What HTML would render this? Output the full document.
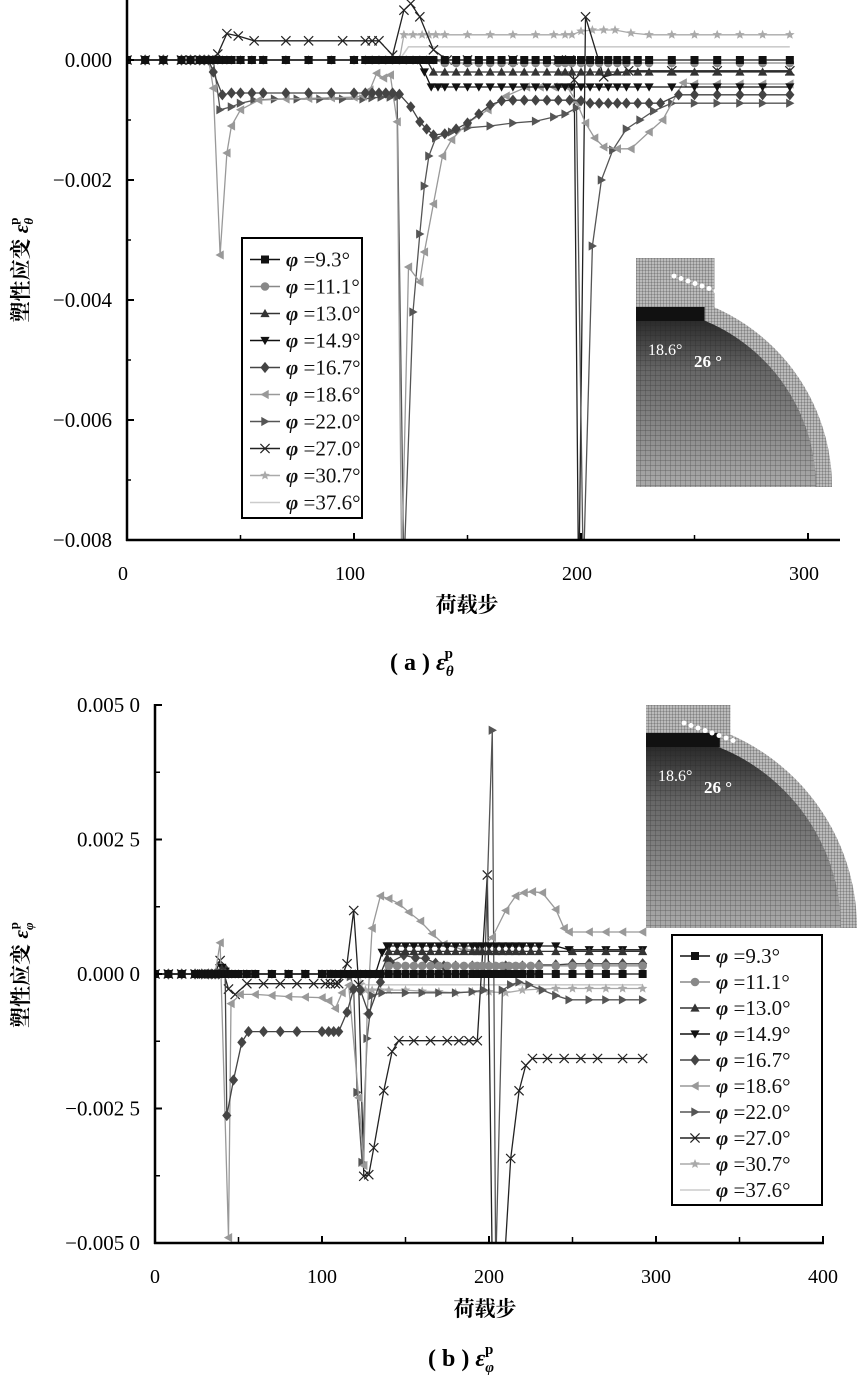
<!DOCTYPE html>
<html><head><meta charset="utf-8">
<style>
html,body{margin:0;padding:0;background:#fff;}
svg{display:block;}
text{font-family:"Liberation Serif","Noto Serif CJK SC",serif;}
.cj{font-family:"Liberation Serif","Noto Serif CJK SC","Noto Sans CJK SC",serif;font-weight:bold;}
</style></head>
<body>
<svg id="s" width="857" height="1375" viewBox="0 0 857 1375" xmlns="http://www.w3.org/2000/svg">
<defs>
<clipPath id="ca"><rect x="127" y="0" width="715" height="541"/></clipPath>
<clipPath id="cb"><rect x="155" y="704" width="670" height="540"/></clipPath>
<pattern id="mesh" width="5" height="5" patternUnits="userSpaceOnUse"><rect width="5" height="5" fill="none"/><path d="M0 0H5M0 0V5" stroke="#222" stroke-width="0.7"/></pattern>
<pattern id="mesh2" width="3" height="3" patternUnits="userSpaceOnUse"><rect width="3" height="3" fill="#bbb"/><path d="M0 0H3M0 0V3" stroke="#444" stroke-width="0.6"/></pattern>
<linearGradient id="gr" x1="0" y1="0" x2="0" y2="1"><stop offset="0" stop-color="#1a1a1a"/><stop offset="0.35" stop-color="#666"/><stop offset="1" stop-color="#aaa"/></linearGradient>
</defs>
<g id="ga"></g>
<g id="gb"></g>
</svg>
<script>
const NS="http://www.w3.org/2000/svg";
function el(p,tag,at,txt){const e=document.createElementNS(NS,tag);for(const k in at)e.setAttribute(k,at[k]);if(txt!==undefined)e.textContent=txt;p.appendChild(e);return e;}
function marker(g,t,x,y,c){const r=4.6;
 if(t=='sq')el(g,'rect',{x:x-4,y:y-4,width:8,height:8,fill:c});
 else if(t=='ci')el(g,'circle',{cx:x,cy:y,r:4.3,fill:c});
 else if(t=='tu')el(g,'polygon',{points:`${x},${y-r} ${x-r},${y+r*0.8} ${x+r},${y+r*0.8}`,fill:c});
 else if(t=='td')el(g,'polygon',{points:`${x},${y+r} ${x-r},${y-r*0.8} ${x+r},${y-r*0.8}`,fill:c});
 else if(t=='di')el(g,'polygon',{points:`${x},${y-r-1} ${x+r},${y} ${x},${y+r+1} ${x-r},${y}`,fill:c});
 else if(t=='tl')el(g,'polygon',{points:`${x-r},${y} ${x+r*0.8},${y-r} ${x+r*0.8},${y+r}`,fill:c});
 else if(t=='tr')el(g,'polygon',{points:`${x+r},${y} ${x-r*0.8},${y-r} ${x-r*0.8},${y+r}`,fill:c});
 else if(t=='x'){el(g,'path',{d:`M${x-r} ${y-r}L${x+r} ${y+r}M${x-r} ${y+r}L${x+r} ${y-r}`,stroke:c,'stroke-width':1.2});}
 else if(t=='st'){let p=[];for(let i=0;i<10;i++){const a=-Math.PI/2+i*Math.PI/5,rr=i%2?2.2:5;p.push((x+rr*Math.cos(a)).toFixed(1)+','+(y+rr*Math.sin(a)).toFixed(1));}el(g,'polygon',{points:p.join(' '),fill:c});}
}
const SER=[['sq','#111'],['ci','#888'],['tu','#333'],['td','#111'],['di','#444'],['tl','#999'],['tr','#555'],['x','#222'],['st','#aaa'],['',"#ccc"]];
const LBL=['9.3','11.1','13.0','14.9','16.7','18.6','22.0','27.0','30.7','37.6'];
function fl(st,v){return st.map(s=>[s,v]);}
const E=[0,8,16,24,28,32,34,36];
const M=[38,40,42,44,46,50,55,60,70,80,90,100,105,108,111,114,117,120];
const L=[140,145,150,155,160,165,170,175,180,185,190,193,196,200,204,208,212,216,220,225,230,240,250,260,270,280,292];
function draw(g,data,X,Y,clip){
 const gg=el(g,'g',{'clip-path':clip});
 for(let i=data.length-1;i>=0;i--){const d=data[i];if(!d)continue;const [t,c]=SER[i];
  const pts=d.map(p=>[X(p[0]),Y(p[1])]);
  el(gg,'polyline',{points:pts.map(p=>p[0].toFixed(1)+','+p[1].toFixed(1)).join(' '),fill:'none',stroke:c,'stroke-width':i==9?1.6:1.3});
  if(t)pts.forEach(p=>{if(p[1]>-20&&p[1]<1400)marker(gg,t,p[0],p[1],c);});
 }
}
function legend(g,x,y,w,h){
 el(g,'rect',{x:x,y:y,width:w,height:h,fill:'#fff',stroke:'#000','stroke-width':2});
 const dy=(h-10)/10;
 for(let i=0;i<10;i++){const yy=y+8+dy*(i+0.5);const [t,c]=SER[i];
  el(g,'line',{x1:x+8,y1:yy,x2:x+38,y2:yy,stroke:c,'stroke-width':1.6});
  if(t)marker(g,t,x+23,yy,c);
  const tx=el(g,'text',{x:x+44,y:yy+7,'font-size':21,fill:'#111'});
  el(tx,'tspan',{'font-style':'italic','font-weight':'bold'},'φ');
  el(tx,'tspan',{},' ='+LBL[i]+'°');
 }
}
function inset(g,x,y,w,h,cx,cy,R){
 el(g,'rect',{x:x,y:y,width:w,height:h,fill:'#fff'});
 const cl='ic'+x;const cp=el(g,'clipPath',{id:cl});el(cp,'rect',{x:x,y:y,width:w,height:h});
 const gg=el(g,'g',{'clip-path':`url(#${cl})`});
 el(gg,'rect',{x:x,y:y,width:w*0.4,height:h*0.25,fill:'url(#mesh2)'});
 el(gg,'path',{d:`M${cx} ${cy-R-16} A${R+16} ${R+16} 0 0 1 ${cx+R+16} ${cy} L${cx} ${cy}Z`,fill:'url(#mesh2)'});
 el(gg,'path',{d:`M${cx} ${cy-R} A${R} ${R} 0 0 1 ${cx+R} ${cy} L${cx} ${cy}Z`,fill:'url(#gr)'});
 el(gg,'path',{d:`M${cx} ${cy-R} A${R} ${R} 0 0 1 ${cx+R} ${cy} L${cx} ${cy}Z`,fill:'url(#mesh)',opacity:0.6});
 el(gg,'rect',{x:x,y:cy-R,width:w*0.35,height:14,fill:'#111'});
 for(let i=0;i<8;i++)el(gg,'circle',{cx:x+38+i*7,cy:y+18+i*2.5,r:2.5,fill:'#fff'});
 el(gg,'text',{x:x+12,y:cy-R+48,'font-size':16,fill:'#fff'},'18.6°');
 el(gg,'text',{x:x+58,y:cy-R+60,'font-size':17,fill:'#fff','font-weight':'bold'},'26 °');
}
(function(){
 const g=document.getElementById('ga');
 const X=s=>127+2.27*s, Y=u=>60-60*u;
 const base=E.concat(M);
 const D=[];
 D[0]=fl(base.concat([123,126,129,132,135]).concat(L),0);
 D[1]=fl(base.concat([123,126,129,132,135]),0).concat(fl(L,-0.05));
 D[2]=fl(base.concat([123,126,129,132]),0).concat([[135,-0.2]]).concat(fl(L,-0.2));
 D[3]=fl(base.concat([123,126,128]),0).concat([[131,-0.2],[134,-0.45],[137,-0.45]]).concat(fl(L,-0.45));
 D[4]=fl(E,0).concat([[38,-0.2],[42,-0.58],[46,-0.55],[50,-0.55],[55,-0.55],[60,-0.55],[70,-0.55],[80,-0.55],[90,-0.55],[100,-0.55],[105,-0.55],[108,-0.55],[111,-0.55],[114,-0.55],[117,-0.55],[120,-0.57],[125,-0.78],[129,-1.03],[132,-1.15],[135,-1.25],[140,-1.23],[145,-1.15],[150,-1.05],[155,-0.9],[160,-0.75],[165,-0.68],[170,-0.67],[175,-0.67],[180,-0.67],[185,-0.67],[190,-0.67],[195,-0.67],[200,-0.68],[204,-0.72],[208,-0.72],[212,-0.72],[216,-0.72],[220,-0.72],[225,-0.72],[230,-0.72],[235,-0.72],[243,-0.58],[250,-0.58],[260,-0.58],[270,-0.58],[280,-0.58],[292,-0.58]]);
 D[5]=fl(E,0).concat([[38,-0.47],[41,-3.25],[44,-1.55],[46,-1.1],[50,-0.83],[58,-0.67],[70,-0.65],[80,-0.64],[90,-0.63],[100,-0.62],[104,-0.6],[107,-0.5],[110,-0.22],[113,-0.3],[116,-0.25],[119,-1.03],[121,-8.5],[124,-3.45],[129,-3.7],[131,-3.2],[135,-2.4],[139,-1.6],[143,-1.33],[150,-1.05],[159,-0.83],[167,-0.6],[176,-0.45],[182,-0.45],[188,-0.45],[194,-0.45],[198,-0.7],[202,-1.05],[206,-1.3],[210,-1.45],[216,-1.48],[222,-1.48],[230,-1.2],[236,-1.0],[245,-0.38],[250,-0.4],[260,-0.4],[270,-0.4],[280,-0.4],[292,-0.4]]);
 D[6]=fl(E.concat([38]),0).concat([[41,-0.83],[46,-0.78],[50,-0.72],[56,-0.67],[65,-0.65],[75,-0.65],[85,-0.65],[95,-0.65],[104,-0.65],[108,-0.63],[112,-0.62],[116,-0.62],[119,-0.62],[122,-8.5],[126,-4.2],[129,-2.9],[131,-2.1],[133,-1.6],[136,-1.3],[143,-1.2],[150,-1.13],[160,-1.1],[170,-1.05],[180,-1.02],[188,-0.95],[193,-0.9],[198,-0.8],[201,-8.6],[205,-3.1],[209,-2.0],[214,-1.5],[220,-1.15],[226,-1.0],[232,-0.85],[240,-0.72],[250,-0.72],[260,-0.72],[270,-0.72],[280,-0.72],[292,-0.72]]);
 D[7]=fl(E,0).concat([[40,0.1],[44,0.44],[49,0.4],[56,0.32],[70,0.32],[80,0.32],[95,0.32],[105,0.32],[108,0.32],[111,0.32],[117,0.08],[122,0.83],[125,0.94],[129,0.72],[135,0.17],[141,0],[150,0],[170,0],[190,0],[195,0],[197,-0.33],[199,-9],[202,0.72],[210,-0.28],[221,-0.18],[240,-0.18],[260,-0.18],[292,-0.18]]);
 D[8]=fl(base,0).concat([[122,0.42],[126,0.42],[130,0.42],[133,0.42],[136,0.42],[140,0.42],[150,0.42],[160,0.42],[170,0.42],[180,0.42],[188,0.42],[193,0.42],[196,0.42],[200,0.48],[205,0.5],[210,0.5],[215,0.5],[222,0.45],[230,0.42],[240,0.42],[250,0.42],[260,0.42],[270,0.42],[280,0.42],[292,0.42]]);
 D[9]=[[0,0],[120,0],[124,0.22],[292,0.22]];
 draw(g,D,X,Y,'url(#ca)');
 el(g,'line',{x1:127,y1:0,x2:127,y2:541,stroke:'#000','stroke-width':2.5});
 el(g,'line',{x1:126,y1:540,x2:840,y2:540,stroke:'#000','stroke-width':2.5});
 const yt=[[0,'0.000'],[-2,'−0.002'],[-4,'−0.004'],[-6,'−0.006'],[-8,'−0.008']];
 yt.forEach(t=>{const y=Y(t[0]);el(g,'line',{x1:127,y1:y,x2:134,y2:y,stroke:'#000','stroke-width':2});el(g,'text',{x:112,y:y+7,'font-size':21,'text-anchor':'end'},t[1]);});
 [-1,-3,-5,-7].forEach(v=>{const y=Y(v);el(g,'line',{x1:127,y1:y,x2:131,y2:y,stroke:'#000','stroke-width':1.5});});
 [[0,'0'],[100,'100'],[200,'200'],[300,'300']].forEach(t=>{const x=X(t[0]);el(g,'line',{x1:x,y1:540,x2:x,y2:533,stroke:'#000','stroke-width':2});el(g,'text',{x:x-4,y:580,'font-size':20,'text-anchor':'middle'},t[1]);});
 [50,150,250].forEach(v=>{const x=X(v);el(g,'line',{x1:x,y1:540,x2:x,y2:535,stroke:'#000','stroke-width':1.5});});
 inset(g,636,258,196,229,636,487,180);
 legend(g,242,238,120,280);
 el(g,'text',{x:467,y:612,'font-size':21,'text-anchor':'middle',class:'cj'},'荷载步');
 const yl=el(g,'text',{x:0,y:0,'font-size':21,class:'cj',transform:'translate(28,270) rotate(-90)','text-anchor':'middle'},'塑性应变 ');
 el(yl,'tspan',{'font-style':'italic'},'ε');el(yl,'tspan',{'font-size':13,dy:5,'font-style':'italic'},'θ');el(yl,'tspan',{'font-size':13,dy:-15,dx:-7},'p');
 const cap=el(g,'text',{x:390,y:670,'font-size':24,class:'cj'},'( a ) ');
 el(cap,'tspan',{'font-style':'italic'},'ε');el(cap,'tspan',{'font-size':15,dy:6,'font-style':'italic'},'θ');el(cap,'tspan',{'font-size':15,dy:-18,dx:-9},'p');
})();
(function(){
 const g=document.getElementById('gb');
 const X=s=>155+1.67*s, Y=u=>974-53.8*u;
 const base=E.concat(M);
 const D=[];
 D[0]=fl(base.concat([123,126,129,132,135]).concat(L),0);
 D[1]=fl(base.concat([123,126,129,132,135]),0).concat(fl(L,0.15));
 D[2]=fl(E,0).concat([[40,0.1],[42,0.05]]).concat(fl(M.slice(3).concat([123,126,129,132,135]),0)).concat([[139,0.3]]).concat(fl(L,0.42));
 D[3]=fl(E,0).concat([[40,0.12],[42,0.05]]).concat(fl(M.slice(3).concat([123,126,129,132]),0)).concat([[136,0.4],[139,0.52]]).concat(fl(L.filter(s=>s<=240),0.52)).concat(fl([248,260,270,280,292],0.45));
 D[4]=fl(E.concat([38]),0).concat([[42,0.09],[43,-2.63],[47,-1.97],[52,-1.27],[56,-1.07],[65,-1.07],[75,-1.07],[85,-1.07],[100,-1.07],[104,-1.07],[107,-1.07],[110,-1.07],[115,-0.71],[119,-0.28],[123,-0.3],[128,-0.74],[135,-0.15],[141,0.22],[149,0.35],[156,0.3],[162,0.29],[168,0.2],[173,0.15],[180,0.15],[190,0.15],[200,0.15],[210,0.15],[220,0.15],[230,0.17],[240,0.17],[250,0.19],[260,0.19],[270,0.19],[280,0.19],[292,0.19]]);
 D[5]=fl(E,0).concat([[39,0.58],[44,-4.9],[45.5,-0.55],[51,-0.38],[60,-0.38],[70,-0.4],[80,-0.42],[90,-0.43],[100,-0.44],[104,-0.5],[108,-0.64],[112,-0.35],[116,-0.21],[122,-2.3],[125,-3.56],[127,-0.74],[130,0.85],[135,1.45],[140,1.4],[146,1.31],[152,1.15],[159,0.98],[166,0.75],[173,0.55],[185,0.45],[194,0.45],[202,0.68],[210,1.18],[216,1.45],[221,1.51],[226,1.53],[232,1.51],[240,1.2],[245,0.85],[248,0.78],[260,0.78],[270,0.78],[280,0.78],[292,0.78]]);
 D[6]=fl(base.slice(0,-4),0).concat([[114,0],[117,-0.05],[119,-0.28],[121,-2.2],[124,-3.5],[127,-1.2],[130,-0.4],[136,-0.35],[150,-0.35],[160,-0.35],[170,-0.35],[180,-0.35],[190,-0.33],[197,-0.3],[202,4.53],[204,-5.5],[208,-0.3],[213,-0.2],[218,-0.15],[224,-0.2],[232,-0.3],[240,-0.4],[248,-0.48],[260,-0.48],[270,-0.48],[280,-0.48],[292,-0.48]]);
 D[7]=fl(E,0).concat([[39,0.25],[44,-0.28],[48,-0.38],[55,-0.18],[65,-0.18],[75,-0.18],[85,-0.18],[95,-0.18],[102,-0.18],[105,-0.18],[108,-0.18],[110,-0.18],[115,0.19],[119,1.18],[122,-0.2],[125,-3.76],[128,-3.73],[131,-3.23],[137,-2.17],[142,-1.44],[146,-1.24],[155,-1.24],[165,-1.24],[175,-1.24],[182,-1.24],[188,-1.24],[193,-1.24],[199,1.84],[202,-5.5],[209,-5.5],[213,-3.43],[218,-2.17],[222,-1.7],[226,-1.57],[235,-1.57],[245,-1.57],[255,-1.57],[265,-1.57],[280,-1.57],[292,-1.57]]);
 D[8]=fl(base,0).concat([[123,-0.2],[126,-0.3],[130,-0.3],[135,-0.3],[140,-0.3],[150,-0.3],[160,-0.32],[170,-0.33],[180,-0.35],[190,-0.33],[200,-0.33],[210,-0.35],[220,-0.3],[230,-0.28],[240,-0.27],[250,-0.27],[260,-0.27],[270,-0.27],[280,-0.27],[292,-0.27]]);
 D[9]=[[0,0],[120,0],[126,-0.2],[292,-0.2]];
 draw(g,D,X,Y,'url(#cb)');
 el(g,'line',{x1:155,y1:704,x2:155,y2:1244,stroke:'#000','stroke-width':2.5});
 el(g,'line',{x1:154,y1:1243,x2:824,y2:1243,stroke:'#000','stroke-width':2.5});
 [[5,'0.005 0'],[2.5,'0.002 5'],[0,'0.000 0'],[-2.5,'−0.002 5'],[-5,'−0.005 0']].forEach(t=>{const y=Y(t[0]);el(g,'line',{x1:155,y1:y,x2:162,y2:y,stroke:'#000','stroke-width':2});el(g,'text',{x:140,y:y+7,'font-size':21,'text-anchor':'end'},t[1]);});
 [3.75,1.25,-1.25,-3.75].forEach(v=>{const y=Y(v);el(g,'line',{x1:155,y1:y,x2:160,y2:y,stroke:'#000','stroke-width':1.5});});
 [[0,'0'],[100,'100'],[200,'200'],[300,'300'],[400,'400']].forEach(t=>{const x=X(t[0]);el(g,'line',{x1:x,y1:1243,x2:x,y2:1236,stroke:'#000','stroke-width':2});el(g,'text',{x:x,y:1283,'font-size':20,'text-anchor':'middle'},t[1]);});
 [50,150,250,350].forEach(v=>{const x=X(v);el(g,'line',{x1:x,y1:1243,x2:x,y2:1237,stroke:'#000','stroke-width':1.5});});
 inset(g,646,705,211,223,646,928,195);
 legend(g,672,935,150,270);
 el(g,'text',{x:485,y:1316,'font-size':21,'text-anchor':'middle',class:'cj'},'荷载步');
 const yl=el(g,'text',{x:0,y:0,'font-size':21,class:'cj',transform:'translate(28,975) rotate(-90)','text-anchor':'middle'},'塑性应变 ');
 el(yl,'tspan',{'font-style':'italic'},'ε');el(yl,'tspan',{'font-size':13,dy:5,'font-style':'italic'},'φ');el(yl,'tspan',{'font-size':13,dy:-15,dx:-7},'p');
 const cap=el(g,'text',{x:428,y:1366,'font-size':24,class:'cj'},'( b ) ');
 el(cap,'tspan',{'font-style':'italic'},'ε');el(cap,'tspan',{'font-size':15,dy:6,'font-style':'italic'},'φ');el(cap,'tspan',{'font-size':15,dy:-18,dx:-9},'p');
})();
</script>
</body></html>
